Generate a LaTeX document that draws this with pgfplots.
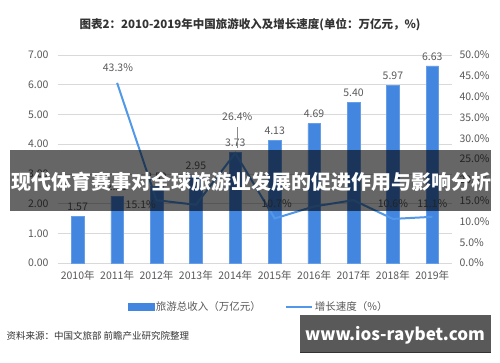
\documentclass[border=0pt]{standalone}
\usepackage{fontspec}
\setmainfont{Noto Sans CJK SC}
\usepackage{pgfplots}
\usepackage{pgfplotstable}
\pgfplotsset{compat=1.18}
\definecolor{barblue}{RGB}{66,134,224}
\definecolor{lineblue}{RGB}{82,152,232}
\definecolor{txtgray}{RGB}{89,89,89}
\definecolor{gridgray}{RGB}{217,217,217}
\pgfplotstableread{
yr rev
0 1.57
1 2.25
2 2.59
3 2.95
4 3.73
5 4.13
6 4.69
7 5.40
8 5.97
9 6.63
}\revtable
\pgfplotstableread{
yr g
1 43.3
2 15.1
3 14.0
4 26.4
5 10.7
6 13.6
7 15.1
8 10.6
9 11.1
}\growtable
\pgfplotstableread{
x y lab
1.02 46.9 43.3\%
1.6 14.0 15.1\%
4.05 35.1 26.4\%
5.05 14.3 10.7\%
8.0 14.3 10.6\%
9.0 14.3 11.1\%
}\growlab
\begin{document}
\begin{tikzpicture}[x=1pt,y=1pt]
\path[use as bounding box, fill=white] (0,0) rectangle (500,362);
\begin{axis}[
  at={(58pt,99pt)}, anchor=south west,
  scale only axis, width=394pt, height=208pt,
  xmin=-0.5, xmax=9.5, ymin=0, ymax=7,
  xtick={0,...,9},
  xticklabels={2010年,2011年,2012年,2013年,2014年,2015年,2016年,2017年,2018年,2019年},
  ytick={0,1,...,7},
  yticklabel={\pgfmathprintnumber[fixed,fixed zerofill,precision=2]{\tick}},
  /pgf/number format/assume math mode=true,
  axis y line*=left, axis x line*=bottom,
  x axis line style={gridgray},
  y axis line style={draw=none},
  major tick length=0pt,
  ymajorgrids, grid style={gridgray, line width=0.6pt},
  tick label style={font=\fontsize{10.5}{12}\selectfont, text=txtgray},
  xticklabel style={yshift=-4pt},
  yticklabel style={xshift=-6pt},
  legend style={at={(0.509,-0.212)}, anchor=center, draw=none, fill=none,
    legend columns=2, font=\fontsize{10.5}{12}\selectfont, text=txtgray,
    /tikz/every even column/.append style={column sep=22pt}},
  legend cell align=left,
]
\addplot[ybar, bar width=12.5pt, fill=barblue, draw=barblue!80!white,
  nodes near coords, point meta=explicit,
  nodes near coords style={font=\fontsize{10.5}{12}\selectfont, text=txtgray, anchor=south, yshift=2pt},
  every node near coord/.append style={/pgf/number format/.cd, fixed, fixed zerofill, precision=2, assume math mode=true},
  area legend,
  legend image code/.code={\fill[barblue] (0pt,-3.5pt) rectangle (26pt,3.5pt);}]
  table[x=yr, y=rev, meta=rev] {\revtable};
\addlegendentry{旅游总收入（万亿元）}
\addlegendimage{lineblue, line width=2pt, legend image code/.code={\draw[lineblue, line width=2pt] (0pt,0pt) -- (26pt,0pt);}}
\addlegendentry{增长速度（\%）}
\end{axis}
\begin{axis}[
  at={(58pt,99pt)}, anchor=south west,
  scale only axis, width=394pt, height=208pt,
  xmin=-0.5, xmax=9.5, ymin=0, ymax=50,
  axis y line*=right, axis x line=none,
  y axis line style={draw=none},
  major tick length=0pt,
  ytick={0,5,...,50},
  yticklabel={\pgfmathprintnumber[fixed,fixed zerofill,precision=1]{\tick}\%},
  /pgf/number format/assume math mode=true,
  yticklabel style={font=\fontsize{10.5}{12}\selectfont, text=txtgray, xshift=4pt},
]
\addplot[lineblue, line width=2pt, mark=none] table[x=yr, y=g] {\growtable};
\draw[txtgray!70, line width=0.4pt] (axis cs:4.05,32.6) -- (axis cs:4.05,27.6);
\addplot[draw=none, mark=none, nodes near coords, point meta=explicit symbolic,
  nodes near coords style={font=\fontsize{10.5}{12}\selectfont, text=txtgray, anchor=center}]
  table[x=x, y=y, meta=lab] {\growlab};
\end{axis}
% title
\node[font=\bfseries\fontsize{11.5}{13}\selectfont, text={rgb,255:red,51;green,51;blue,51}] at (250,337) {图表2：2010-2019年中国旅游收入及增长速度(单位：万亿元，\%)};
% footer
\node[anchor=west, font=\fontsize{9.5}{11}\selectfont, text={rgb,255:red,51;green,51;blue,51}] at (3,26) {资料来源：中国文旅部 前瞻产业研究院整理};
% banner
\fill[black, opacity=0.6] (10,151) rectangle (491,212);
\node[font=\bfseries\fontsize{20}{22}\selectfont, text=white] at (251,180) {现代体育赛事对全球旅游业发展的促进作用与影响分析};
% bottom box
\fill[black, opacity=0.65] (300,10) rectangle (491,47);
\draw[black!80, line width=1pt] (300,10) -- (491,10);
\node[font=\bfseries\fontsize{17}{19}\selectfont, text=white] at (395,27) {www.ios-raybet.com};
\end{tikzpicture}
\end{document}
